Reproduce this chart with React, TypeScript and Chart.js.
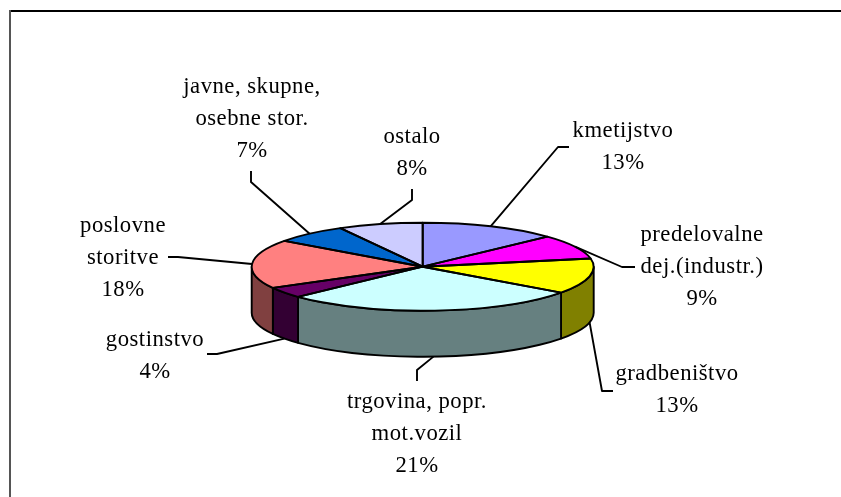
import React, { useEffect, useRef } from "react";
import { Chart, registerables } from "chart.js";

Chart.register(...registerables);

const categories = [
  "kmetijstvo",
  "predelovalne\ndej.(industr.)",
  "gradbeništvo",
  "trgovina, popr.\nmot.vozil",
  "gostinstvo",
  "poslovne\nstoritve",
  "javne, skupne,\nosebne stor.",
  "ostalo",
];
const sliceValues = [13, 9, 13, 28, 4, 18, 7, 8];
const percentLabels = ["13%", "9%", "13%", "21%", "4%", "18%", "7%", "8%"];
const topColors = ["#9999FF", "#FF00FF", "#FFFF00", "#CCFFFF", "#660066", "#FF8080", "#0066CC", "#CCCCFF"];
const sideColors = ["#4D4D80", "#800080", "#808000", "#668080", "#330033", "#804040", "#003366", "#666680"];

// layout of each data label: text centre, first baseline, leader elbow and leader end
const labelLayout = [
  { x: 623, y: 137, elbow: [558, 147], end: [569, 147] },
  { x: 702, y: 241, elbow: [622, 267], end: [635, 267] },
  { x: 677, y: 380, elbow: [602, 391], end: [613, 391] },
  { x: 417, y: 408, elbow: [417, 370], end: [417, 381] },
  { x: 155, y: 346, elbow: [217, 354], end: [207, 354] },
  { x: 123, y: 232, elbow: [178, 257], end: [168, 257] },
  { x: 252, y: 93, elbow: [251, 182], end: [251, 171] },
  { x: 412, y: 143, elbow: [412, 200], end: [412, 189] },
];

const SQUASH = 44 / 171;
const DEPTH = 46;
const LINE_HEIGHT = 32;
const STROKE = 1.9;
const FONT = '22.7px "Liberation Serif"';

const piePlugin = {
  id: "pie3d",
  beforeDraw(chart: any) {
    const { ctx } = chart;
    ctx.save();
    ctx.fillStyle = "#000000";
    ctx.fillRect(9, 10, 832, 2);
    ctx.fillStyle = "#555555";
    ctx.fillRect(9, 10, 2, 487);
    ctx.restore();
  },
  beforeDatasetsDraw(chart: any) {
    const { ctx } = chart;
    const arcs = chart.getDatasetMeta(0).data;
    ctx.save();
    ctx.lineWidth = STROKE;
    ctx.strokeStyle = "#000000";
    ctx.lineJoin = "round";
    arcs.forEach((arc: any, i: number) => {
      const { x, y, startAngle, endAngle, outerRadius } = arc.getProps(["x", "y", "startAngle", "endAngle", "outerRadius"], true);
      const s = Math.max(startAngle, 0);
      const e = Math.min(endAngle, Math.PI);
      if (e <= s) return;
      ctx.beginPath();
      ctx.ellipse(x, y, outerRadius, outerRadius * SQUASH, 0, s, e);
      ctx.ellipse(x, y + DEPTH, outerRadius, outerRadius * SQUASH, 0, e, s, true);
      ctx.closePath();
      ctx.fillStyle = sideColors[i];
      ctx.fill();
      ctx.stroke();
    });
    ctx.restore();
    const first = arcs[0];
    ctx.save();
    ctx.translate(first.x, first.y);
    ctx.scale(1, SQUASH);
    ctx.translate(-first.x, -first.y);
  },
  afterDatasetsDraw(chart: any) {
    const { ctx } = chart;
    ctx.restore();
    const arcs = chart.getDatasetMeta(0).data;
    ctx.save();
    ctx.lineWidth = STROKE;
    ctx.strokeStyle = "#000000";
    ctx.lineJoin = "round";
    arcs.forEach((arc: any) => {
      const { x, y, startAngle, endAngle, outerRadius } = arc.getProps(["x", "y", "startAngle", "endAngle", "outerRadius"], true);
      ctx.beginPath();
      ctx.moveTo(x, y);
      ctx.ellipse(x, y, outerRadius, outerRadius * SQUASH, 0, startAngle, endAngle);
      ctx.closePath();
      ctx.stroke();
    });
    ctx.font = FONT;
    (ctx as any).letterSpacing = "0.5px";
    ctx.textAlign = "center";
    ctx.textBaseline = "alphabetic";
    ctx.fillStyle = "#000000";
    arcs.forEach((arc: any, i: number) => {
      const { x, y, startAngle, endAngle, outerRadius } = arc.getProps(["x", "y", "startAngle", "endAngle", "outerRadius"], true);
      const mid = (startAngle + endAngle) / 2;
      const sin = Math.sin(mid);
      const px = x + outerRadius * Math.cos(mid);
      const py = y + outerRadius * SQUASH * sin + (sin > 0 ? DEPTH : 0);
      const layout = labelLayout[i];
      ctx.beginPath();
      ctx.moveTo(px, py);
      ctx.lineTo(layout.elbow[0], layout.elbow[1]);
      ctx.lineTo(layout.end[0], layout.end[1]);
      ctx.stroke();
      const lines = [...categories[i].split("\n"), percentLabels[i]];
      lines.forEach((line, k) => ctx.fillText(line, layout.x, layout.y + k * LINE_HEIGHT));
    });
    ctx.restore();
  },
};

export default function App() {
  const ref = useRef<HTMLCanvasElement>(null);
  useEffect(() => {
    const chart = new Chart(ref.current as HTMLCanvasElement, {
      type: "pie",
      data: {
        labels: categories,
        datasets: [{ data: sliceValues, backgroundColor: topColors, borderWidth: 0 }],
      },
      options: {
        responsive: false,
        animation: false,
        layout: { padding: { left: 251.7, right: 247.3, top: 95.7, bottom: 59.3 } },
        plugins: { legend: { display: false }, tooltip: { enabled: false } },
      },
      plugins: [piePlugin],
    } as any);
    return () => chart.destroy();
  }, []);
  return (
    <div style={{ position: "fixed", left: 0, top: 0, width: 841, height: 497, background: "#fff" }}>
      <canvas ref={ref} width={841} height={497} style={{ display: "block" }} />
    </div>
  );
}
